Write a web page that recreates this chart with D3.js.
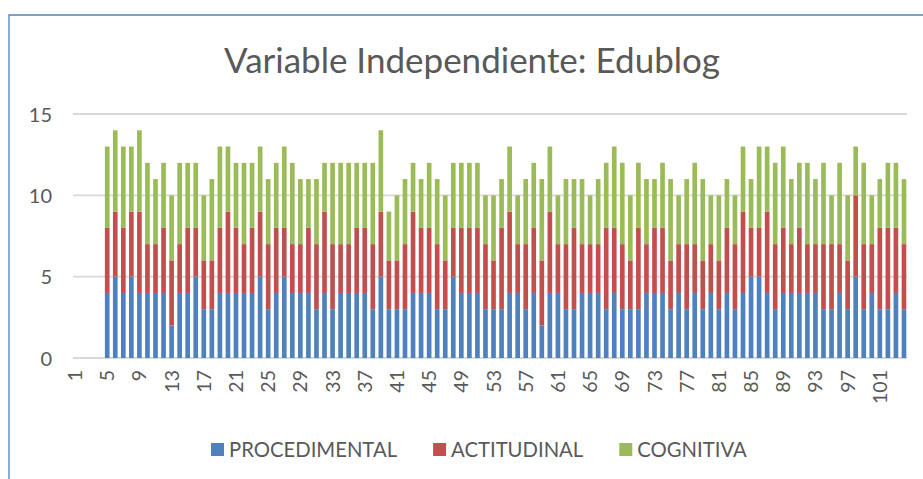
<!DOCTYPE html>
<html>
<head>
<meta charset="utf-8">
<script src="https://cdn.jsdelivr.net/npm/d3@7"></script>
<style>
  html, body { margin: 0; padding: 0; background: #fff; }
  svg { display: block; }
  text { font-family: Lato, "Open Sans", sans-serif; fill: #595959; }
</style>
</head>
<body>
<svg id="chart" width="923" height="479"></svg>
<script>
// ---- data ----
const title = "Variable Independiente: Edublog";
const seriesNames = ["PROCEDIMENTAL", "ACTITUDINAL", "COGNITIVA"];
const seriesColors = ["#4F81BD", "#C0504D", "#9BBB59"];
const categories = ["1","2","3","4","5","6","7","8","9","10","11","12","13","14","15","16","17","18","19","20",
  "21","22","23","24","25","26","27","28","29","30","31","32","33","34","35","36","37","38","39","40",
  "41","42","43","44","45","46","47","48","49","50","51","52","53","54","55","56","57","58","59","60",
  "61","62","63","64","65","66","67","68","69","70","71","72","73","74","75","76","77","78","79","80",
  "81","82","83","84","85","86","87","88","89","90","91","92","93","94","95","96","97","98","99","100",
  "101","102","103","104"];
// categories 1-4 have no values
const procedimental = [null,null,null,null,
  4,5,4,5,4,4,4,4,2,4,
  4,5,3,3,4,4,4,4,4,5,
  3,4,5,4,4,4,3,4,3,4,
  4,4,4,3,5,3,3,3,4,4,
  4,3,3,5,4,4,4,3,3,3,
  4,4,3,4,2,4,4,3,3,4,
  4,4,3,4,3,3,3,4,4,4,
  3,4,3,4,3,4,3,4,3,4,
  5,5,4,3,4,4,4,4,4,3,
  3,4,3,5,3,4,3,3,4,3];
const actitudinal = [null,null,null,null,
  4,4,4,4,5,3,3,4,4,3,
  4,3,3,3,4,5,4,3,4,4,
  4,4,3,3,3,4,4,5,4,3,
  3,4,4,4,4,3,3,4,5,4,
  4,4,3,3,4,4,4,4,3,5,
  5,3,4,4,4,5,3,4,5,3,
  3,3,5,4,4,3,5,3,4,4,
  3,3,4,3,3,3,3,4,4,5,
  3,3,5,4,4,3,4,3,3,4,
  4,3,3,5,4,3,5,5,4,4];
const cognitiva = [null,null,null,null,
  5,5,5,4,5,5,4,4,4,5,
  4,4,4,5,5,4,4,5,4,4,
  4,4,5,5,4,3,4,3,5,5,
  5,4,4,5,5,3,4,4,3,3,
  4,4,4,4,4,4,4,3,4,3,
  4,3,4,4,5,4,3,4,3,4,
  3,4,4,5,5,4,4,4,3,4,
  5,3,4,5,5,3,4,3,3,4,
  3,5,4,5,5,4,4,5,4,5,
  3,5,4,3,5,3,3,4,4,4];
const yTicks = [0, 5, 10, 15];
const xTickLabels = ["1","5","9","13","17","21","25","29","33","37","41","45","49","53","57","61","65","69","73","77","81","85","89","93","97","101"];

// ---- build ----
const svg = d3.select("#chart");
const W = 923, H = 479;
const plot = {left: 71, right: 908, top: 114, bottom: 358};

// frame border (left + top)
svg.append("path")
  .attr("d", `M9,${H} L9,15 L${W},15`)
  .attr("fill", "none").attr("stroke", "#4F81BD").attr("stroke-width", 1.3);

const x = d3.scaleBand().domain(categories).range([plot.left, plot.right]).paddingInner(0.42).paddingOuter(0.21);
const y = d3.scaleLinear().domain([0, 15]).range([plot.bottom, plot.top]);

// gridlines
svg.append("g").selectAll("line").data(yTicks).join("line")
  .attr("x1", 73).attr("x2", 907)
  .attr("y1", d => y(d)).attr("y2", d => y(d))
  .attr("stroke", "#D9D9D9").attr("stroke-width", 1.8);

// y axis labels
const yAxis = d3.axisLeft(y).tickValues(yTicks).tickSize(0).tickPadding(0);
const yg = svg.append("g").attr("transform", "translate(52,0)").call(yAxis);
yg.select(".domain").remove();
yg.selectAll("text").style("font-size", "20px").style("font-family", "Lato, sans-serif").attr("fill", "#595959").attr("dy", "0.36em");

// stacked data
const table = categories.map((c, i) => ({
  cat: c,
  PROCEDIMENTAL: procedimental[i] || 0,
  ACTITUDINAL: actitudinal[i] || 0,
  COGNITIVA: cognitiva[i] || 0
}));
const stack = d3.stack().keys(seriesNames)(table);

svg.append("g").selectAll("g").data(stack).join("g")
  .attr("fill", (d, i) => seriesColors[i])
  .selectAll("rect").data(d => d).join("rect")
  .attr("x", d => x(d.data.cat))
  .attr("width", x.bandwidth())
  .attr("y", d => y(d[1]))
  .attr("height", d => y(d[0]) - y(d[1]));

// x axis labels
const xAxis = d3.axisBottom(x).tickValues(xTickLabels).tickSize(0).tickPadding(0);
const xg = svg.append("g").attr("transform", `translate(0,${plot.bottom})`).call(xAxis);
xg.select(".domain").remove();
xg.selectAll("text")
  .style("font-size", "19.5px").style("font-family", "Lato, sans-serif").attr("fill", "#595959")
  .attr("text-anchor", "end")
  .attr("transform", "rotate(-90)")
  .attr("x", -12).attr("y", 0).attr("dy", "0.36em");

// title
svg.append("text")
  .attr("x", 472).attr("y", 73)
  .attr("text-anchor", "middle")
  .style("font-size", "35px")
  .style("font-weight", "400")
  .text(title);

// legend
const lg = svg.append("g");
let lx = 211;
seriesNames.forEach((name, i) => {
  lg.append("rect").attr("x", lx).attr("y", 443).attr("width", 13).attr("height", 13).attr("fill", seriesColors[i]);
  const t = lg.append("text").attr("x", lx + 18).attr("y", 450).attr("dy", "0.36em")
    .style("font-size", "20.3px").text(name);
  lx += 18 + t.node().getComputedTextLength() + 36;
});
</script>
</body>
</html>
